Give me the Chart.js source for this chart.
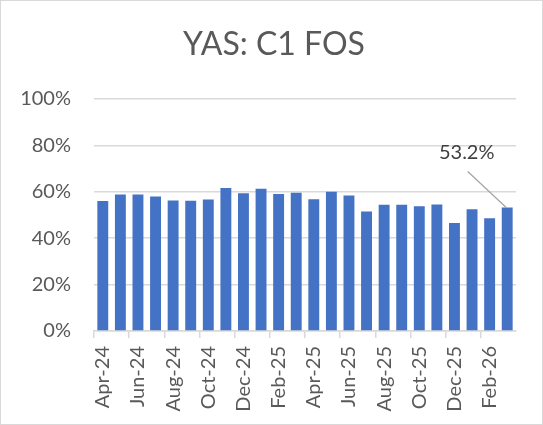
<!DOCTYPE html>
<html>
<head>
<meta charset="utf-8">
<script src="https://cdn.jsdelivr.net/npm/chart.js@4"></script>
<style>
  html, body { margin: 0; padding: 0; background: #fff; }
  #wrap { width: 543px; height: 425px; position: relative; }
</style>
</head>
<body>
<div id="wrap"><canvas id="chart"></canvas></div>
<script>
const months = ["Apr-24", "May-24", "Jun-24", "Jul-24", "Aug-24", "Sep-24", "Oct-24", "Nov-24",
    "Dec-24", "Jan-25", "Feb-25", "Mar-25", "Apr-25", "May-25", "Jun-25", "Jul-25",
    "Aug-25", "Sep-25", "Oct-25", "Nov-25", "Dec-25", "Jan-26", "Feb-26", "Mar-26"];
const fosValues = [56.0, 58.8, 58.8, 58.0, 56.3, 56.1, 56.7, 61.6,
    59.4, 61.3, 59.1, 59.6, 56.8, 60.0, 58.4, 51.5,
    54.4, 54.4, 53.8, 54.5, 46.5, 52.5, 48.6, 53.2];
const yTicks = [0, 20, 40, 60, 80, 100];
const lastLabel = "53.2%";
const chartTitle = "YAS: C1 FOS";

const FONT = "Lato, 'Open Sans', sans-serif";

// title (drawn by hand so it sits where Excel puts it), callout on last bar, outer border
const decorPlugin = {
    id: "decor",
    afterDatasetsDraw(chart) {
        const meta = chart.getDatasetMeta(0);
        const bar = meta.data[meta.data.length - 1];
        const ctx = chart.ctx;
        ctx.save();
        ctx.strokeStyle = "#A6A6A6";
        ctx.lineWidth = 1.3;
        ctx.beginPath();
        ctx.moveTo(bar.x - 1, bar.y);
        ctx.lineTo(bar.x - 39.5, bar.y - 36);
        ctx.stroke();
        ctx.fillStyle = "#404040";
        ctx.font = "20px " + FONT;
        ctx.textAlign = "center";
        ctx.textBaseline = "middle";
        ctx.fillText(lastLabel, bar.x - 40.5, bar.y - 55);
        ctx.restore();
    },
    afterDraw(chart) {
        const ctx = chart.ctx;
        ctx.save();
        ctx.fillStyle = "#595959";
        ctx.font = "32px " + FONT;
        ctx.textAlign = "center";
        ctx.textBaseline = "alphabetic";
        ctx.fillText(chartTitle, 274, 55);
        ctx.strokeStyle = "#D9D9D9";
        ctx.lineWidth = 1;
        ctx.strokeRect(0.5, 0.5, chart.width - 1, chart.height - 1);
        ctx.restore();
    }
};

const ctx = document.getElementById("chart").getContext("2d");
new Chart(ctx, {
    type: "bar",
    data: {
        labels: months,
        datasets: [{
            label: "C1 FOS",
            data: fosValues,
            backgroundColor: "#4472C4",
            borderWidth: 0,
            barPercentage: 0.62,
            categoryPercentage: 1.0
        }]
    },
    options: {
        responsive: true,
        maintainAspectRatio: false,
        animation: false,
        layout: { padding: { left: 0, right: 27, top: 99, bottom: 0 } },
        plugins: {
            legend: { display: false },
            tooltip: { enabled: false },
            title: { display: false }
        },
        scales: {
            y: {
                min: 0,
                max: 100,
                afterBuildTicks: (scale) => { scale.ticks = yTicks.map(v => ({ value: v })); },
                afterFit: (scale) => { scale.width = 94; },
                ticks: {
                    color: "#595959",
                    font: { family: FONT, size: 20 },
                    padding: 23,
                    callback: (v) => v + "%"
                },
                grid: { color: "#D9D9D9", lineWidth: 1.5, drawTicks: false },
                border: { display: false }
            },
            x: {
                offset: true,
                afterFit: (scale) => { scale.height = 94; },
                ticks: {
                    autoSkip: false,
                    minRotation: 90,
                    maxRotation: 90,
                    color: "#595959",
                    font: { family: FONT, size: 20 },
                    padding: 8,
                    callback: function (v, i) { return i % 2 === 0 ? this.getLabelForValue(v) : ""; }
                },
                grid: {
                    offset: true,
                    drawOnChartArea: false,
                    tickLength: 7,
                    lineWidth: 1.5,
                    color: (c) => (c.index % 2 === 0 ? "#D9D9D9" : "rgba(0,0,0,0)")
                },
                border: { display: true, color: "#D9D9D9", width: 1.5 }
            }
        }
    },
    plugins: [decorPlugin]
});
</script>
</body>
</html>
